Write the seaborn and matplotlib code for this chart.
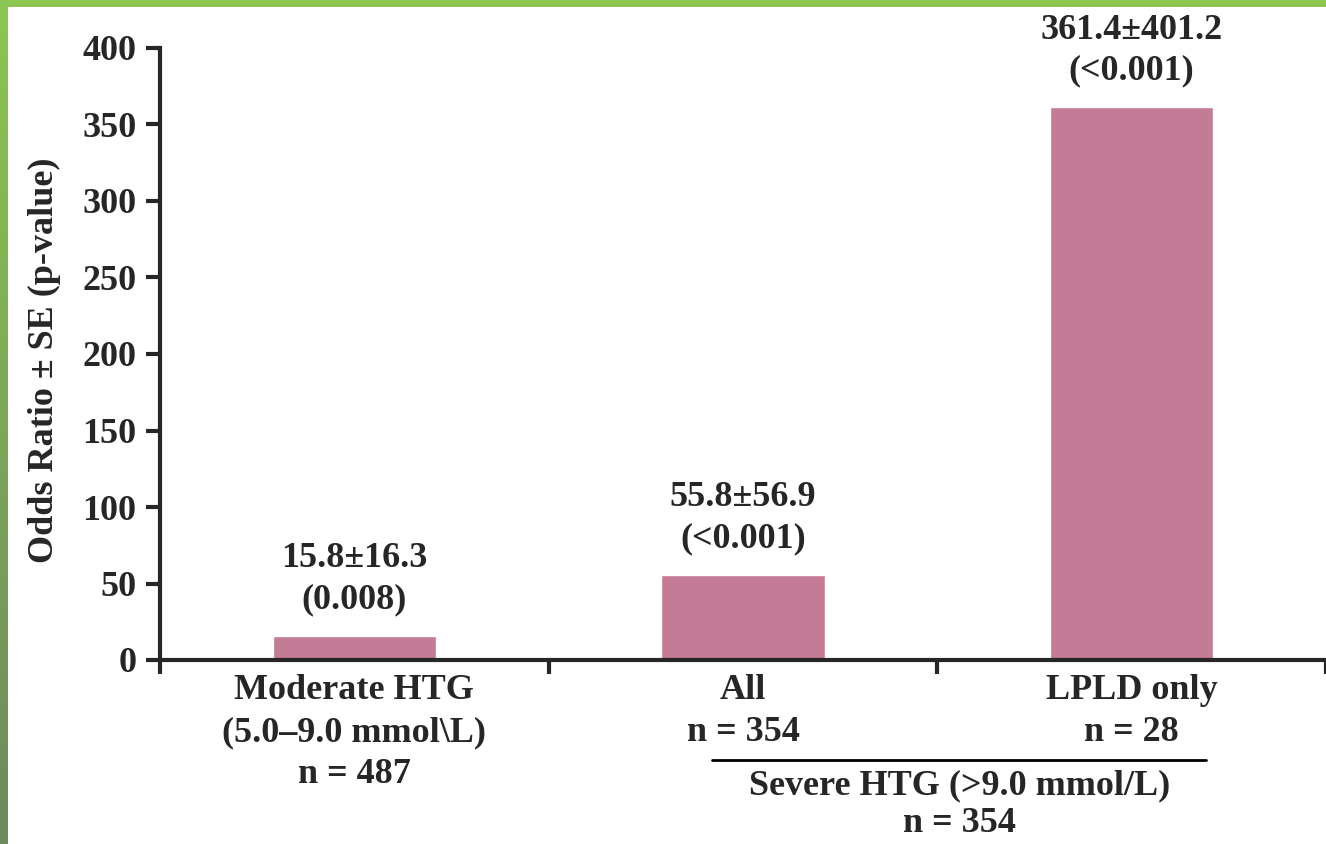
import matplotlib
matplotlib.use("Agg")
import matplotlib.pyplot as plt
import matplotlib.transforms as mtransforms
import numpy as np
import pandas as pd
import seaborn as sns

# Data
groups = ["Moderate HTG", "All", "LPLD only"]
odds_ratio = [15.8, 55.8, 361.4]
std_err = [16.3, 56.9, 401.2]
p_values = ["(0.008)", "(<0.001)", "(<0.001)"]
tick_labels = ["Moderate HTG\n(5.0\u20139.0 mmol\\L)\nn = 487",
               "All\nn = 354",
               "LPLD only\nn = 28"]
severe_label = "Severe HTG (>9.0 mmol/L)\nn = 354"
y_ticks = [0, 50, 100, 150, 200, 250, 300, 350, 400]

df = pd.DataFrame({"group": groups, "odds": odds_ratio})

sns.set_style("ticks")
plt.rcParams["font.family"] = ["Liberation Serif", "DejaVu Serif"]
plt.rcParams["font.weight"] = "bold"
FS = 26

fig = plt.figure(figsize=(13.26, 8.44), dpi=100)

# green frame on the top and left edges
top = fig.add_axes([0, 1 - 7 / 844, 1, 7 / 844])
top.set_axis_off()
top.add_patch(plt.Rectangle((0, 0), 1, 1, color="#8cc651", transform=top.transAxes))
left = fig.add_axes([0, 0, 8 / 1326, 1])
grad = np.linspace(0, 1, 256).reshape(-1, 1)
cmap = matplotlib.colors.LinearSegmentedColormap.from_list("g", ["#8cc651", "#6c8a5e"])
left.imshow(grad, aspect="auto", cmap=cmap, extent=[0, 1, 0, 1])
left.set_axis_off()

ax = fig.add_axes([160 / 1326, 1 - 660 / 844, 1 - 160 / 1326, 612 / 844])
sns.barplot(data=df, x="group", y="odds", color="#c47b96", saturation=1,
            width=0.42, ax=ax)

ax.set_xlim(-0.5, 2.5)
ax.set_ylim(0, 400)
ax.set_yticks(y_ticks)
ax.set_yticklabels([str(t) for t in y_ticks], fontsize=FS, fontweight="bold")
ax.set_xticks([-0.5, 0.5, 1.5, 2.5])
ax.set_xticklabels([])
ax.set_xticks([0, 1, 2], minor=True)
ax.set_xticklabels(tick_labels, minor=True, fontsize=FS, fontweight="bold",
                   linespacing=1.36)
ax.tick_params(axis="x", which="minor", length=0, pad=10)
ax.tick_params(axis="both", which="major", length=10, width=3, direction="out", pad=7)
ax.set_xlabel("")
ax.set_ylabel("Odds Ratio \u00b1 SE (p-value)", fontsize=FS, fontweight="bold")
ax.yaxis.set_label_coords(-0.085, 0.49)

for side in ["top", "right"]:
    ax.spines[side].set_visible(False)
for side in ["left", "bottom"]:
    ax.spines[side].set_linewidth(3)

# value and p-value labels above bars
for i, (v, s, p) in enumerate(zip(odds_ratio, std_err, p_values)):
    ax.annotate(f"{v}\u00b1{s}\n{p}", xy=(i, v), xytext=(0, 14),
                textcoords="offset points", ha="center", va="bottom",
                fontsize=FS, fontweight="bold", linespacing=1.32,
                annotation_clip=False)

# bracket for severe HTG groups
trans = mtransforms.blended_transform_factory(ax.transData, ax.transAxes)
ax.plot([0.92, 2.19], [-0.163, -0.163], color="black", lw=2,
        transform=trans, clip_on=False)
ax.text(1.557, -0.178, severe_label, transform=trans, ha="center", va="top",
        fontsize=FS, fontweight="bold", linespacing=1.22)

fig.savefig("out.png", dpi=100)
